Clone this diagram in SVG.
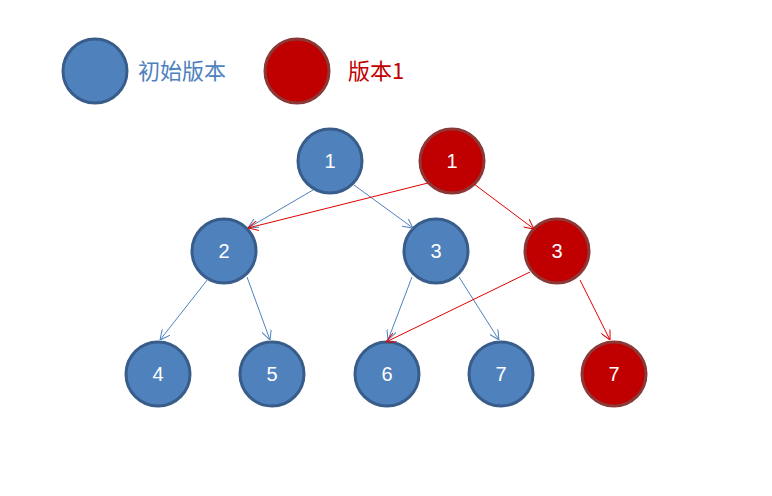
<svg xmlns="http://www.w3.org/2000/svg" width="772" height="496" viewBox="0 0 772 496">
<style>
.b{fill:#4F81BD;stroke:#385D8A;stroke-width:3}
.r{fill:#C00000;stroke:#8C3836;stroke-width:3}
.t{font-family:"Liberation Sans","Noto Sans CJK SC",sans-serif;font-size:20px;fill:#fff;text-anchor:middle}
.eb{stroke:#4F81BD;stroke-width:1;fill:none;marker-end:url(#ab)}
.er{stroke:#E00000;stroke-width:1;fill:none;marker-end:url(#ar)}
</style>
<defs>
<marker id="ab" viewBox="0 0 10 10" refX="10" refY="5" markerWidth="10" markerHeight="10" orient="auto" markerUnits="userSpaceOnUse"><path d="M0,0L10,5L0,10" fill="none" stroke="#4F81BD"/></marker>
<marker id="ar" viewBox="0 0 10 10" refX="10" refY="5" markerWidth="10" markerHeight="10" orient="auto" markerUnits="userSpaceOnUse"><path d="M0,0L10,5L0,10" fill="none" stroke="#E00000"/></marker>
</defs>
<g id="legend">
<circle class="b" cx="95" cy="71" r="32"/>
<text x="138" y="79" font-family="'Noto Sans CJK SC',sans-serif" font-size="22" fill="#4F81BD">初始版本</text>
<circle class="r" cx="297" cy="71" r="32"/>
<text x="348" y="79" font-family="'Noto Sans CJK SC',sans-serif" font-size="22" fill="#C00000">版本1</text>
</g>
<g id="nb1"><circle class="b" cx="330" cy="161" r="32"/><text class="t" x="330" y="168">1</text></g>
<g id="nb2"><circle class="b" cx="224" cy="251" r="32"/><text class="t" x="224" y="258">2</text></g>
<g id="nb3"><circle class="b" cx="436" cy="251" r="32"/><text class="t" x="436" y="258">3</text></g>
<g id="nb4"><circle class="b" cx="158" cy="374" r="32"/><text class="t" x="158" y="381">4</text></g>
<g id="nb5"><circle class="b" cx="272" cy="374" r="32"/><text class="t" x="272" y="381">5</text></g>
<g id="nb6"><circle class="b" cx="387" cy="374" r="32"/><text class="t" x="387" y="381">6</text></g>
<g id="nb7"><circle class="b" cx="501" cy="374" r="32"/><text class="t" x="501" y="381">7</text></g>
<g id="nr1"><circle class="r" cx="452" cy="161" r="32"/><text class="t" x="452" y="168">1</text></g>
<g id="nr3"><circle class="r" cx="557" cy="251" r="32"/><text class="t" x="557" y="258">3</text></g>
<g id="nr7"><circle class="r" cx="614" cy="374" r="32"/><text class="t" x="614" y="381">7</text></g>
<g id="connectors">
<line class="eb" x1="313" y1="190" x2="248" y2="228"/>
<line class="eb" x1="354" y1="185" x2="413" y2="228"/>
<line class="er" x1="428" y1="183" x2="248" y2="228"/>
<line class="er" x1="474" y1="184" x2="534" y2="229"/>
<line class="eb" x1="208" y1="279" x2="160" y2="340"/>
<line class="eb" x1="247" y1="277" x2="270" y2="340"/>
<line class="eb" x1="412" y1="277" x2="388" y2="340"/>
<line class="eb" x1="459" y1="277" x2="499" y2="340"/>
<line class="er" x1="530" y1="272" x2="386" y2="342"/>
<line class="er" x1="580" y1="280" x2="610" y2="340"/>
</g>
</svg>
